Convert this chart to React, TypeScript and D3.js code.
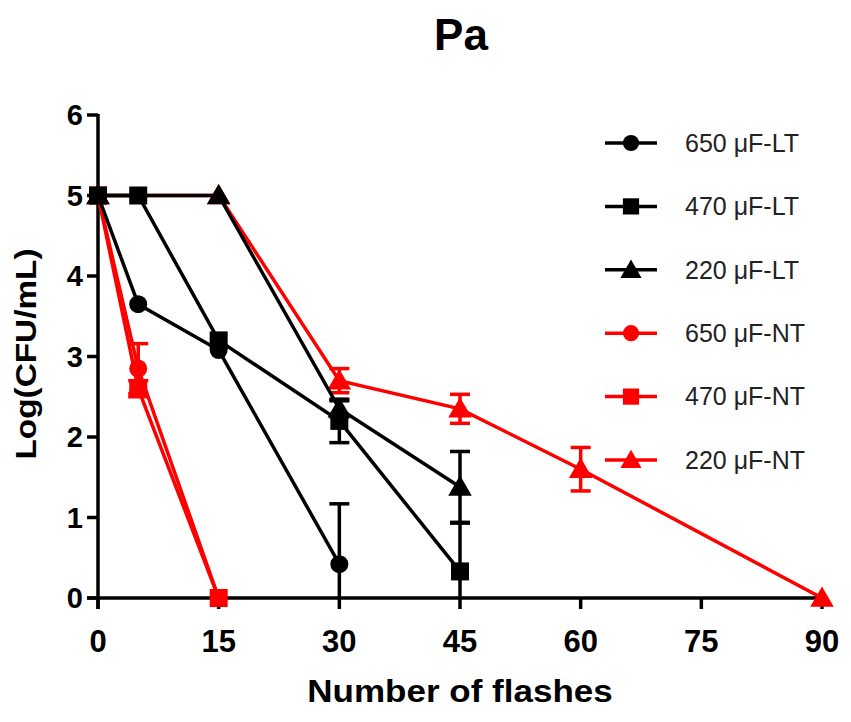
import React from 'react';
import * as d3 from 'd3';

// flashes / Log(CFU/mL) / error (SD) for each series
const lt650X = [0, 5, 15, 30];
const lt650Y = [5, 3.65, 3.08, 0.42];
const lt650E = [0, 0, 0, 0.75];

const lt470X = [0, 5, 15, 30, 45];
const lt470Y = [5, 5, 3.2, 2.2, 0.33];
const lt470E = [0, 0, 0, 0.27, 0.6];

const lt220X = [0, 15, 30, 45];
const lt220Y = [5, 5, 2.35, 1.38];
const lt220E = [0, 0, 0.1, 0.44];

const nt650X = [0, 5, 15];
const nt650Y = [5, 2.85, 0];
const nt650E = [0, 0.31, 0];

const nt470X = [0, 5, 15];
const nt470Y = [5, 2.6, 0];
const nt470E = [0, 0.1, 0];

const nt220X = [0, 15, 30, 45, 60, 90];
const nt220Y = [5, 5, 2.7, 2.35, 1.6, 0];
const nt220E = [0, 0, 0.15, 0.18, 0.27, 0];

const xTicks = [0, 15, 30, 45, 60, 75, 90];
const yTicks = [0, 1, 2, 3, 4, 5, 6];

type Shape = 'circle' | 'square' | 'triangle';

interface Series {
  name: string;
  color: string;
  shape: Shape;
  x: number[];
  y: number[];
  err: number[];
}

const series: Series[] = [
  { name: '650 μF-LT', color: '#000000', shape: 'circle', x: lt650X, y: lt650Y, err: lt650E },
  { name: '470 μF-LT', color: '#000000', shape: 'square', x: lt470X, y: lt470Y, err: lt470E },
  { name: '220 μF-LT', color: '#000000', shape: 'triangle', x: lt220X, y: lt220Y, err: lt220E },
  { name: '650 μF-NT', color: '#ff0000', shape: 'circle', x: nt650X, y: nt650Y, err: nt650E },
  { name: '470 μF-NT', color: '#ff0000', shape: 'square', x: nt470X, y: nt470Y, err: nt470E },
  { name: '220 μF-NT', color: '#ff0000', shape: 'triangle', x: nt220X, y: nt220Y, err: nt220E },
];

const font = '"Liberation Sans", Arial, Helvetica, sans-serif';
const sw = 3.5;

const Marker = ({ shape, cx, cy, color, size = 1 }: { shape: Shape; cx: number; cy: number; color: string; size?: number }) => {
  if (shape === 'circle') return <circle cx={cx} cy={cy} r={9 * size} fill={color} />;
  if (shape === 'square') {
    const s = 18 * size;
    return <rect x={cx - s / 2} y={cy - s / 2} width={s} height={s} fill={color} />;
  }
  const sym = d3.symbol(d3.symbolTriangle, 240 * size * size)();
  return <path d={sym || ''} transform={`translate(${cx},${cy + 2})`} fill={color} />;
};

export default function App() {
  const width = 851;
  const height = 722;
  const x = d3.scaleLinear().domain([0, 90]).range([98, 822]);
  const y = d3.scaleLinear().domain([0, 6]).range([598, 115]);

  const line = d3
    .line<[number, number]>()
    .x(d => x(d[0]))
    .y(d => y(d[1]));

  // red first so black sits on top, as in the figure
  const drawOrder = [...series.slice(3), ...series.slice(0, 3)];

  return (
    <svg width={width} height={height} style={{ position: 'absolute', left: 0, top: 0, background: '#fff' }}>
      <text x={461} y={50} textAnchor="middle" fontFamily={font} fontWeight="bold" fontSize={44}>
        Pa
      </text>

      {/* axes */}
      <line x1={x(0) - 11} x2={x(90)} y1={y(0)} y2={y(0)} stroke="#000" strokeWidth={sw} />
      <line x1={x(0)} x2={x(0)} y1={y(0) + 11} y2={y(6) - 1} stroke="#000" strokeWidth={sw} />
      {xTicks.map(t => (
        <g key={`xt${t}`}>
          <line x1={x(t)} x2={x(t)} y1={y(0)} y2={y(0) + 11} stroke="#000" strokeWidth={sw} />
          <text x={x(t)} y={652} textAnchor="middle" fontFamily={font} fontWeight="bold" fontSize={31}>
            {t}
          </text>
        </g>
      ))}
      {yTicks.map(t => (
        <g key={`yt${t}`}>
          <line x1={x(0) - 11} x2={x(0)} y1={y(t)} y2={y(t)} stroke="#000" strokeWidth={sw} />
          <text x={83} y={y(t)} dy="0.35em" textAnchor="end" fontFamily={font} fontWeight="bold" fontSize={29}>
            {t}
          </text>
        </g>
      ))}
      {/* the source font is wider than Arial, so stretch a little */}
      <text
        transform="translate(460,702) scale(1.13,1)"
        textAnchor="middle"
        fontFamily={font}
        fontWeight="bold"
        fontSize={31}
      >
        Number of flashes
      </text>
      <text
        transform="translate(36,354) rotate(-90) scale(1.15,1)"
        textAnchor="middle"
        fontFamily={font}
        fontWeight="bold"
        fontSize={29}
      >
        Log(CFU/mL)
      </text>

      {/* series */}
      {drawOrder.map(s => {
        const pts = s.x.map((v, i) => [v, s.y[i]] as [number, number]);
        return (
          <g key={s.name}>
            <path d={line(pts) || ''} fill="none" stroke={s.color} strokeWidth={sw} />
            {pts.map((p, i) =>
              s.err[i] > 0 ? (
                <g key={`e${i}`} stroke={s.color} strokeWidth={sw}>
                  <line x1={x(p[0])} x2={x(p[0])} y1={y(p[1] + s.err[i])} y2={y(Math.max(0, p[1] - s.err[i]))} />
                  <line x1={x(p[0]) - 10} x2={x(p[0]) + 10} y1={y(p[1] + s.err[i])} y2={y(p[1] + s.err[i])} />
                  {p[1] - s.err[i] > 0 && (
                    <line x1={x(p[0]) - 10} x2={x(p[0]) + 10} y1={y(p[1] - s.err[i])} y2={y(p[1] - s.err[i])} />
                  )}
                </g>
              ) : null
            )}
            {pts.map((p, i) => (
              <Marker key={`m${i}`} shape={s.shape} cx={x(p[0])} cy={y(p[1])} color={s.color} />
            ))}
          </g>
        );
      })}

      {/* legend */}
      {series.map((s, i) => {
        const ly = 143 + i * 63.4;
        return (
          <g key={`lg${s.name}`}>
            <line x1={605} x2={657} y1={ly} y2={ly} stroke={s.color} strokeWidth={sw} />
            <Marker shape={s.shape} cx={631} cy={ly} color={s.color} size={0.9} />
            <text x={685} y={ly} dy="0.35em" fontFamily={font} fontSize={25} fill="#222">
              {s.name}
            </text>
          </g>
        );
      })}
    </svg>
  );
}
